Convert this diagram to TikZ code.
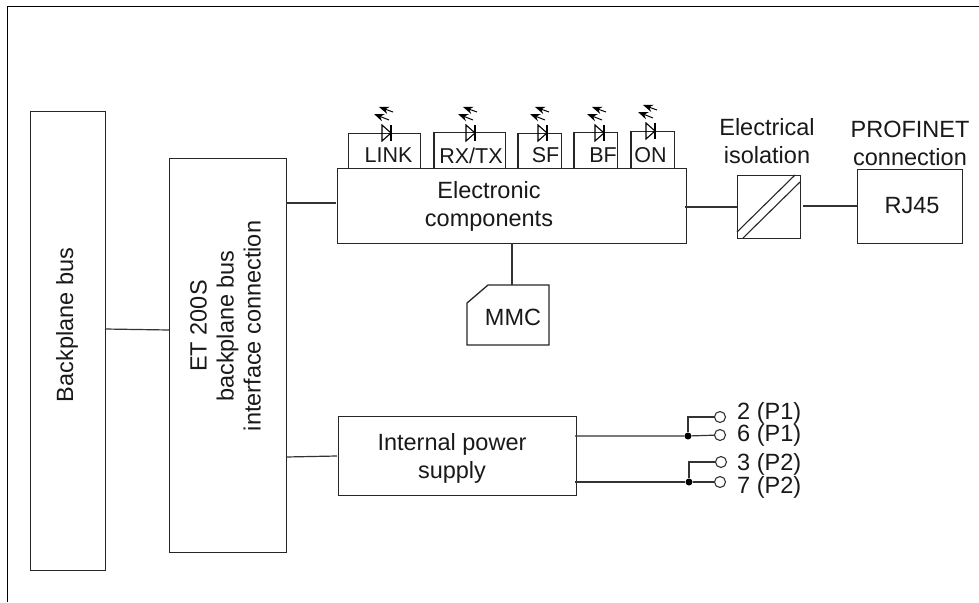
\documentclass[tikz,border=0pt]{standalone}
\usepackage{fontspec}
\setmainfont{Liberation Sans}
\usetikzlibrary{arrows.meta}
\tikzset{
  x=1pt,y=-1pt,
  wire/.style={draw=black!80,line width=1.2pt},
  box/.style={draw=black!85,line width=1.3pt,fill=none},
  lbl/.style={font=\fontsize{23.5}{28}\selectfont,text=black!90,inner sep=0pt,align=center},
  ledlbl/.style={font=\fontsize{21.5}{26}\selectfont,text=black!90,inner sep=0pt,align=center},
  term/.style={circle,draw=black!80,line width=1.1pt,fill=white,minimum size=11pt,inner sep=0pt},
  dot/.style={circle,fill=black,minimum size=7pt,inner sep=0pt},
  ray/.style={draw=black,line width=1pt,-{Stealth[length=10pt,width=7.5pt]}}
}
\newcommand{\ledsym}[3]{% name, bar x, y centre
  \coordinate (#1t) at (#2-9,#3-8);
  \coordinate (#1b) at (#2,#3);
  \coordinate (#1u) at (#2-9,#3+8);
  \draw[line width=1.1pt,draw=black] (#1t) -- (#1b) -- (#1u) -- cycle;
  \draw[line width=1.1pt,draw=black] (#2,#3-8) -- (#2,#3+8);
  \draw[ray] (#2-2,#3-13) -- (#2-17,#3-19);
  \draw[ray] (#2+2,#3-21) -- (#2-12,#3-26);
}
\begin{document}
\begin{tikzpicture}
\useasboundingbox (0,0) rectangle (979,602);
% frame
\coordinate (fa) at (7.5,602); \coordinate (fb) at (7.5,6.5); \coordinate (fc) at (979,6.5);
\draw[line width=1.3pt] (fa) -- (fb) -- (fc);
% main boxes
\node[box,anchor=north west,inner sep=0pt,minimum width=75pt,minimum height=459pt] (bus) at (30,110.5) {};
\node[lbl,rotate=90] (bustext) at (67,325) {Backplane bus};
\node[box,anchor=north west,inner sep=0pt,minimum width=117pt,minimum height=394pt] (et) at (169,157.5) {};
\node[lbl,rotate=90,font=\fontsize{23.5}{27}\selectfont] (ettext) at (225.5,326) {ET 200S\\backplane bus\\interface connection};
\node[box,anchor=north west,inner sep=0pt,minimum width=349pt,minimum height=75pt] (ec) at (336.5,168) {};
\node[lbl] (ectext) at (489,206) {Electronic\\components};
\node[box,anchor=north west,inner sep=0pt,minimum width=238pt,minimum height=79pt] (ps) at (337.5,415.5) {};
\node[lbl] (pstext) at (452,458) {Internal power\\supply};
% connectors
\draw[wire] (105,329) -- (169,330);
\draw[wire] (286,203) -- (336,203);
\draw[wire] (286,457) -- (337,456);
\draw[wire] (685,207) -- (737,207);
\draw[wire] (803,206) -- (857,206);
% isolation
\node[box,anchor=north west,inner sep=0pt,minimum width=63pt,minimum height=63pt] (iso) at (737,175) {};
\draw[line width=1.1pt,draw=black!85] (737,232) -- (795,175);
\draw[line width=1.1pt,draw=black!85] (743,238) -- (800,182);
\node[lbl] (isotext) at (767,141) {Electrical\\isolation};
% RJ45
\node[box,anchor=north west,inner sep=0pt,minimum width=105pt,minimum height=74pt] (rj) at (857,169) {};
\node[lbl] (rjtext) at (912,206) {RJ45};
\node[lbl] (pntext) at (910,143) {PROFINET\\connection};
% MMC
\draw[box] (467,345) -- (467,303) -- (488,285) -- (549,285) -- (549,345) -- cycle;
\coordinate (mm) at (512,285);
\coordinate (ecb) at (512,243);
\draw[wire] (ecb) -- (mm);
\node[lbl] (mmctext) at (513,317) {MMC};
% LED boxes
\draw[box] (348.5,168) -- (348.5,133.5) -- (420.5,133.5) -- (420.5,168);
\node[ledlbl] (link) at (388.5,155.5) {LINK};
\draw[box] (434,168) -- (434,132.5) -- (505.5,132.5) -- (505.5,168);
\node[ledlbl] (rxtx) at (471,155.5) {RX/TX};
\draw[box] (518,168) -- (518,133.5) -- (561.5,133.5) -- (561.5,168);
\node[ledlbl] (sf) at (545.5,155.5) {SF};
\draw[box] (574,168) -- (574,132.5) -- (617.5,132.5) -- (617.5,168);
\node[ledlbl] (bf) at (603,155.5) {BF};
\draw[box] (631,168) -- (631,131.5) -- (674.5,131.5) -- (674.5,168);
\node[ledlbl] (on) at (650.5,155.5) {ON};
\ledsym{l1}{391}{133}
\ledsym{l2}{475}{133}
\ledsym{l3}{547}{133}
\ledsym{l4}{604}{133}
\ledsym{l5}{655}{131}
% outputs
\node[term] (t2) at (720,417) {};
\node[term] (t6) at (720,435) {};
\node[term] (t3) at (721,462) {};
\node[term] (t7) at (720,482) {};
\node[dot] (d1) at (688,436) {};
\node[dot] (d2) at (689,482) {};
\draw[wire] (575,436) -- (d1) -- (t6);
\draw[wire] (d1) -- (688,417) -- (t2);
\draw[wire] (575,482) -- (d2) -- (t7);
\draw[wire] (d2) -- (689,462) -- (t3);
\node[lbl,anchor=west] (l2p) at (737,413) {2 (P1)};
\node[lbl,anchor=west] (l6p) at (737,435) {6 (P1)};
\node[lbl,anchor=west] (l3p) at (737,464) {3 (P2)};
\node[lbl,anchor=west] (l7p) at (737,487) {7 (P2)};
\end{tikzpicture}
\end{document}
